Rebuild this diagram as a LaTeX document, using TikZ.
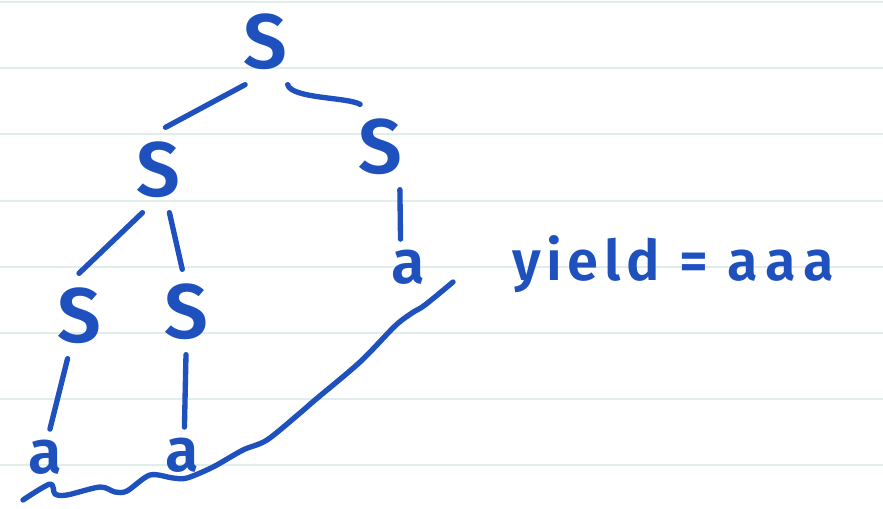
\documentclass[tikz,border=0pt]{standalone}
\usepackage{fontspec}
\setmainfont{Fira Sans}[BoldFont={Fira Sans SemiBold}]
\usepackage{tikz}
\definecolor{ink}{HTML}{1E50BE}
\definecolor{ruled}{HTML}{E0EEEA}

\begin{document}
\begin{tikzpicture}[
  x=0.75pt,y=-0.75pt,
  sym/.style={ink,inner sep=0pt,outer sep=11pt,font=\fontsize{58}{58}\selectfont\bfseries},
  leaf/.style={ink,inner sep=0pt,outer sep=8pt,font=\fontsize{46}{46}\selectfont\bfseries},
  note/.style={ink,inner sep=0pt,anchor=base west,
               font=\fontsize{42}{42}\selectfont\bfseries\addfontfeature{LetterSpace=10}},
  ln/.style={draw=ink,line width=4pt,line cap=round,line join=round}]
\useasboundingbox (0,0) rectangle (883,508);
\fill[white] (0,0) rectangle (883,508);
% ruled paper
\foreach \k in {0,...,7}
  \draw[ruled,line width=1.5pt] (0,2+66.2*\k) -- (883,2+66.2*\k);
% tree
\node[sym]  (root) at (265,42)  {S};
\node[sym]  (sL)   at (158,170) {S};
\node[sym]  (sR)   at (380,147) {S};
\node[sym]  (sLL)  at (79,316)  {S};
\node[sym]  (sLR)  at (186,312) {S};
\node[leaf] (aR)   at (408,267) {a};
\node[leaf] (aLL)  at (45,457)  {a};
\node[leaf] (aLR)  at (182,455) {a};
\node[note] (yield) at (512,280) {yield = {\addfontfeature{LetterSpace=14}aaa}};
\draw[ln] (root.-115) -- (sL.80);
\draw[ln] (root.-62) to[out=-75,in=150,looseness=0.5] (sR.115);
\draw[ln] (sL.-110) -- (sLL.90);
\draw[ln] (sL.-75) -- (sLR.95);
\draw[ln] (sR.-65) -- (aR.105);
\draw[ln] (sLL.-105) -- (aLL.80);
\draw[ln] (sLR.-90) -- (aLR.85);
% underline of the yield
\coordinate (yS) at (453,282);
\coordinate (yE) at (23,500);
\draw[ln] plot[smooth,tension=0.5] coordinates {(yS) (425,305) (412,313) (395,326)
  (360,362) (315,400) (300,413) (267,440) (243,450) (213,467) (187,478) (173,478)
  (150,475) (127,491) (115,492) (100,487) (67,495) (55,494) (50,484) (yE)};
\end{tikzpicture}
\end{document}
